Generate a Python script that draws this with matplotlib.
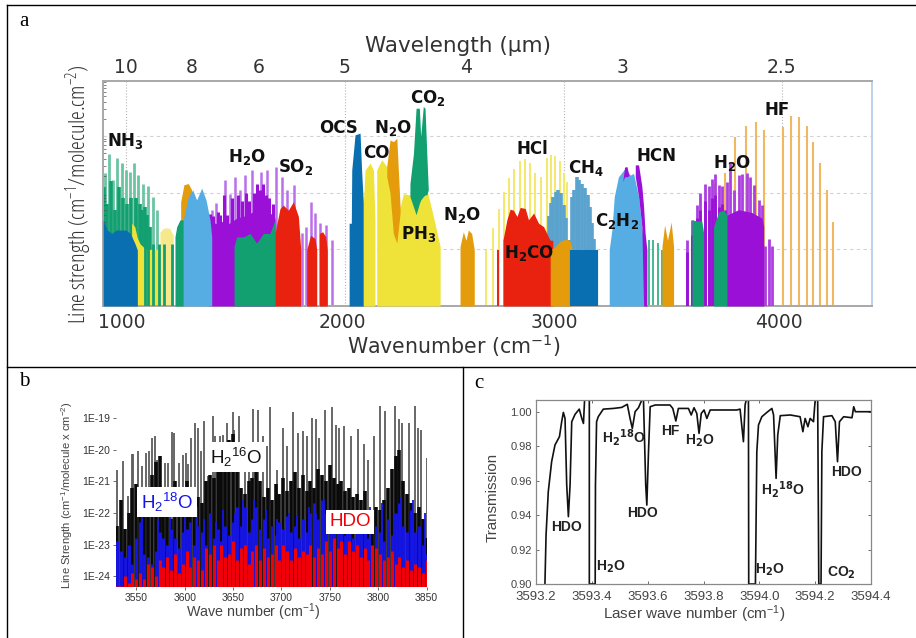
import numpy as np
import matplotlib
matplotlib.use("Agg")
import matplotlib.pyplot as plt
from matplotlib.lines import Line2D

W, H = 916, 638

# ---- panel a, filled bands (wavenumber, strength in decades above the axis floor)
nh3_base_x = [896, 915, 935, 955, 975, 1000, 1020, 1040, 1052]
nh3_base_h = [1.52, 1.34, 1.28, 1.34, 1.34, 1.34, 1.28, 1.11, 0.99]
nh3_stick_x = [904, 924, 942, 960, 980, 998, 1018, 1037, 1056, 1076, 1102, 1122, 1140]
nh3_stick_h = [2.34, 2.69, 2.22, 2.61, 2.52, 2.40, 2.37, 2.52, 2.31, 2.16, 2.11, 1.93, 1.69]
nh3_mid_x = [900, 912, 930, 950, 968, 985, 1005, 1025, 1045, 1062, 1072, 1085, 1095, 1110]
nh3_mid_h = [2.1, 1.8, 2.2, 1.7, 2.1, 1.9, 1.8, 1.9, 1.9, 1.8, 1.7, 1.75, 1.6, 1.4]
yellow_low_x = [1026, 1040, 1052, 1064, 1090, 1130, 1155]
yellow_low_h = [1.46, 1.40, 1.20, 1.10, 1.00, 1.00, 1.00]
pale_x = [1155, 1170, 1186, 1200, 1216]
pale_h = [1.30, 1.37, 1.38, 1.37, 1.25]
green_thin_x = [1087, 1102, 1125, 1151, 1174, 1209]
green_thin_h = [1.1, 1.1, 1.1, 1.1, 1.1, 1.1]
green_1_x = [1224, 1232, 1247, 1262]
green_1_h = [1.22, 1.40, 1.52, 1.52]
orange_1_x = [1250, 1265, 1285, 1300]
orange_1_h = [1.84, 2.14, 2.16, 2.05]
ltblue_1_x = [1262, 1285, 1305, 1323, 1346, 1366, 1384, 1392]
ltblue_1_h = [1.52, 1.93, 2.05, 1.87, 2.08, 1.87, 1.52, 1.22]
purple_1_x = [1379, 1415, 1445, 1468, 1506, 1552, 1597, 1628, 1658, 1681]
purple_1_h = [1.50, 1.45, 1.50, 1.45, 1.55, 1.60, 1.70, 1.75, 1.65, 1.55]
purple_dk_x = [1385, 1398, 1420, 1432, 1450, 1462, 1485, 1510, 1530, 1548, 1562, 1585, 1600, 1612, 1625, 1640, 1655, 1670]
purple_dk_h = [1.62, 1.58, 1.66, 1.60, 1.95, 1.60, 1.90, 1.95, 1.85, 2.00, 1.85, 2.00, 2.15, 2.05, 2.15, 1.95, 1.90, 1.80]
purple_st_x = [1392, 1411, 1453, 1475, 1498, 1521, 1544, 1575, 1616, 1646, 1686, 1712, 1735, 1770, 1803, 1823, 1844, 1864, 1887, 1913, 1940]
purple_st_h = [1.69, 1.81, 2.22, 1.98, 2.28, 2.05, 2.31, 2.40, 2.37, 2.40, 2.46, 2.28, 2.05, 2.14, 1.28, 1.40, 1.84, 1.64, 1.46, 1.43, 1.16]
green_2_x = [1494, 1506, 1537, 1567, 1597, 1628, 1658, 1681]
green_2_h = [1.05, 1.22, 1.22, 1.28, 1.11, 1.28, 1.28, 1.52]
red_1_x = [1681, 1704, 1719, 1742, 1765, 1788, 1799]
red_1_h = [1.28, 1.72, 1.78, 1.69, 1.84, 1.58, 0.99]
red_2_x = [1826, 1844, 1864, 1872]
red_2_h = [0.99, 1.25, 1.19, 0.99]
red_3_x = [1884, 1899, 1913, 1920]
red_3_h = [1.28, 1.31, 1.22, 0.99]
ocs_x = [2020, 2030, 2032, 2047, 2070, 2077, 2085]
ocs_h = [1.46, 1.46, 2.40, 3.02, 3.05, 2.40, 1.81]
co_x = [2085, 2093, 2116, 2131, 2138]
co_h = [1.81, 2.40, 2.52, 2.40, 1.52]
ph3_x = [2146, 2169, 2192, 2207, 2253, 2268, 2298, 2375, 2405, 2436]
ph3_h = [2.40, 2.58, 2.46, 2.12, 1.74, 1.98, 1.96, 2.06, 1.58, 1.05]
n2o_x = [2192, 2207, 2222, 2238, 2253]
n2o_top = [2.46, 2.93, 2.90, 2.96, 1.75]
n2o_low = [2.28, 1.99, 1.28, 1.11, 1.64]
co2_x = [2298, 2314, 2326, 2341, 2347, 2359, 2367, 2375, 2382]
co2_top = [2.16, 2.69, 3.49, 3.49, 2.99, 3.52, 3.49, 2.69, 2.05]
co2_low = [1.93, 1.75, 1.61, 1.81, 1.87, 1.93, 1.96, 1.96, 2.05]
n2o2_x = [2527, 2542, 2554, 2565, 2580, 2592]
n2o2_h = [1.05, 1.31, 1.16, 1.34, 1.28, 0.99]
hcl_x = [2646, 2677, 2703, 2726, 2752, 2774, 2799, 2822, 2845, 2870, 2898, 2924, 2944, 2963, 2985, 3000, 3018, 3038]
hcl_h = [0.99, 1.37, 1.72, 2.02, 2.25, 2.41, 2.55, 2.59, 2.53, 2.34, 2.28, 2.61, 2.66, 2.65, 2.55, 2.34, 2.19, 1.87]
h2co_x = [2723, 2741, 2756, 2771, 2787, 2802, 2825, 2840, 2863, 2886, 2909, 2931, 2939, 2951]
h2co_h = [1.16, 1.52, 1.71, 1.69, 1.58, 1.74, 1.72, 1.52, 1.64, 1.46, 1.40, 1.22, 1.16, 1.16]
red_thin_x = [2700]
red_thin_h = [0.99]
orange_3_x = [2939, 2962, 2985, 3015, 3030, 3038]
orange_3_h = [0.99, 1.05, 1.14, 1.19, 1.14, 1.05]
ch4_x = [2934, 2944, 2954, 2965, 2977, 2988, 3000, 3012, 3026, 3038, 3049, 3061, 3073, 3085, 3098, 3110, 3119, 3130, 3140, 3149]
ch4_h = [1.58, 1.81, 1.93, 2.02, 2.05, 1.99, 1.78, 1.55, 1.16, 1.93, 2.05, 2.28, 2.22, 2.16, 2.08, 1.96, 1.75, 1.46, 1.19, 0.99]
ch4_dark_x = [3038, 3050, 3062, 3074, 3086, 3099, 3114, 3130, 3148]
ch4_dark_h = [0.99, 0.99, 0.99, 0.99, 0.99, 0.99, 0.99, 0.99, 0.99]
c2h2_x = [3209, 3221, 3232, 3251, 3282, 3305, 3320, 3343, 3358, 3366]
c2h2_h = [1.00, 1.34, 1.93, 2.28, 2.43, 2.31, 2.34, 1.93, 1.40, 1.05]
hcn_1_x = [3271, 3279, 3290, 3299]
hcn_1_top = [2.20, 2.45, 2.46, 2.30]
hcn_1_low = [2.20, 2.28, 2.28, 2.30]
hcn_2_x = [3328, 3343, 3358, 3366, 3373, 3381]
hcn_2_top = [2.49, 2.49, 2.11, 1.75, 1.28, 0.99]
hcn_2_low = [2.28, 1.93, 1.40, 0.00, 0.00, 0.00]
green_st_x = [3389, 3411, 3431, 3450]
green_st_h = [1.16, 1.16, 1.11, 0.99]
orange_4_x = [3450, 3462, 3475, 3492, 3503]
orange_4_h = [1.05, 1.43, 1.16, 1.48, 1.05]
purple_3_x = [3745, 3800, 3860, 3907, 3915]
purple_3_h = [1.60, 1.70, 1.65, 1.55, 1.40]
purple_dk2_x = [3564, 3587, 3610, 3625, 3648, 3663, 3678, 3693, 3709, 3724, 3740]
purple_dk2_h = [0.95, 1.25, 1.55, 1.70, 1.85, 1.70, 1.90, 1.95, 1.75, 1.80, 1.70]
purple_4_x = [3564, 3587, 3610, 3625, 3648, 3663, 3678, 3693, 3709, 3724, 3747, 3759, 3777, 3800, 3815, 3838, 3853, 3869, 3892, 3907, 3922, 3940, 3952]
purple_4_h = [1.16, 1.52, 1.78, 2.00, 2.16, 2.11, 2.24, 2.33, 2.14, 2.11, 2.19, 2.52, 2.05, 2.31, 2.33, 2.34, 2.28, 2.14, 1.87, 1.78, 1.05, 1.19, 1.05]
green_3_x = [3587, 3610, 3632, 3640]
green_3_h = [1.52, 1.50, 1.50, 1.30]
green_4_x = [3686, 3709, 3732, 3747]
green_4_h = [1.40, 1.66, 1.69, 1.60]
hf_x = [3645, 3686, 3739, 3785, 3832, 3878, 3918, 4003, 4039, 4077, 4113, 4140, 4173, 4204, 4234]
hf_h = [1.69, 2.16, 2.34, 2.99, 3.18, 3.25, 3.11, 3.15, 3.35, 3.34, 3.18, 2.90, 2.52, 2.05, 1.48]

wavenumber_grid = [1000, 2000, 3000, 4000]
wavenumber_pos = [982, 1988, 2957, 3986]
wavenumber_labels = ["1000", "2000", "3000", "4000"]
wavelength_pos = [1000, 1302, 1608, 2000, 2555, 3268, 3995]
wavelength_labels = ["10", "8", "6", "5", "4", "3", "2.5"]

# ---- panel b
h2o_tall_wn = [3530, 3536, 3541, 3546, 3547, 3552, 3556, 3560, 3563, 3566, 3569, 3571, 3575, 3580, 3583, 3587, 3589, 3594, 3598, 3601, 3603, 3607, 3611, 3614, 3617, 3620, 3624, 3629, 3631, 3637, 3640, 3644, 3650, 3651, 3656, 3662, 3666, 3671, 3676, 3681, 3685, 3688, 3695, 3702, 3706, 3712, 3717, 3722, 3726, 3732, 3736, 3739, 3745, 3752, 3756, 3760, 3765, 3772, 3779, 3785, 3790, 3796, 3802, 3807, 3817, 3822, 3825, 3832, 3838, 3841, 3844, 3850]
h2o_tall_e = [-20.63, -20.37, -21.47, -20.13, -20.13, -20.05, -20.53, -20.10, -20.05, -19.63, -19.58, -20.32, -20.42, -20.42, -20.42, -19.44, -19.47, -20.42, -20.16, -20.10, -20.47, -19.63, -19.16, -19.32, -20.05, -19.10, -20.84, -18.95, -19.58, -19.58, -19.53, -19.16, -18.81, -19.37, -18.95, -19.79, -20.00, -18.72, -18.76, -19.58, -19.89, -18.65, -20.63, -19.32, -19.89, -18.82, -19.47, -19.42, -19.58, -19.00, -19.05, -19.63, -18.76, -18.65, -19.21, -19.32, -19.26, -19.58, -19.35, -19.84, -20.32, -19.58, -18.63, -18.79, -18.63, -19.05, -19.16, -19.16, -18.63, -19.32, -19.37, -20.26]
core_wn = [3530, 3534, 3538, 3542, 3546, 3550, 3554, 3558, 3562, 3566, 3570, 3574, 3578, 3582, 3586, 3590, 3594, 3598, 3602, 3606, 3610, 3614, 3618, 3622, 3626, 3630, 3634, 3638, 3642, 3646, 3650, 3654, 3658, 3662, 3666, 3670, 3674, 3678, 3682, 3686, 3690, 3694, 3698, 3702, 3706, 3710, 3714, 3718, 3722, 3726, 3730, 3734, 3738, 3742, 3746, 3750, 3754, 3758, 3762, 3766, 3770, 3774, 3778, 3782, 3786, 3790, 3794, 3798, 3802, 3806, 3810, 3814, 3818, 3822, 3826, 3830, 3834, 3838, 3842, 3846, 3850]
h2o_core_e = [-22.4, -21.6, -22.5, -22.0, -21.2, -21.1,
              -21.5, -21.2, -21.3, -20.8, -20.4, -20.2,
              -22.1, -21.7, -22.2, -21.0, -21.6, -21.3,
              -21.0, -21.8, -21.2, -21.5, -21.7, -21.0,
              -20.8, -20.9, -20.3, -20.6, -20.0, -19.7,
              -19.5, -20.5, -21.2, -21.4, -21.0, -20.9,
              -20.5, -21.0, -21.5, -21.2, -21.6, -21.1,
              -21.4, -20.9, -21.3, -21.0, -20.7, -21.2,
              -20.8, -21.3, -21.0, -21.2, -20.6, -20.8,
              -21.0, -20.5, -20.9, -21.1, -21.0, -21.3,
              -21.2, -21.5, -21.4, -21.6, -21.3, -22.0,
              -22.2, -21.8, -21.9, -21.6, -21.2, -20.6,
              -20.2, -20.0, -21.0, -21.4, -21.7, -22.0,
              -21.8, -22.2, -22.8]
h218o_e = [-22.9, -23.2, -23.4, -23.0, -23.6, -22.8,
           -22.3, -23.3, -23.4, -23.6, -23.2, -22.6,
           -22.8, -23.0, -22.5, -22.8, -23.1, -22.6,
           -22.5, -22.3, -23.0, -22.4, -22.6, -23.0,
           -22.0, -22.8, -22.5, -22.9, -22.4, -22.7,
           -22.3, -21.8, -22.4, -21.8, -22.6, -22.2,
           -21.8, -22.5, -22.2, -22.8, -22.4, -22.7,
           -22.3, -22.5, -22.1, -22.6, -22.4, -22.8,
           -22.2, -22.6, -22.0, -21.7, -22.2, -21.6,
           -22.0, -22.5, -22.2, -22.6, -22.3, -22.7,
           -22.4, -22.8, -22.5, -22.2, -22.6, -22.8,
           -23.1, -22.4, -22.6, -22.9, -22.2, -22.7,
           -22.0, -21.7, -22.4, -22.6, -21.9, -22.6,
           -22.4, -23.0, -23.3]
h218o_spike_wn = [3556, 3572, 3585, 3600, 3613, 3620, 3632, 3640, 3652, 3660, 3672, 3684, 3695, 3708, 3716, 3728, 3736, 3744, 3752, 3768, 3780, 3792, 3804, 3816, 3824, 3836, 3848]
h218o_spike_e = [-22.1, -22.2, -22.0, -21.9, -21.8, -22.2, -22.3, -21.9, -22.0, -21.6, -21.6, -21.9, -22.2, -22.0, -22.1, -21.8, -22.0, -21.6, -22.2, -22.3, -22.0, -21.8, -21.7, -22.0, -21.5, -21.6, -22.0]
hdo_e = [-24.3, -24.3, -24.0, -24.2, -23.9, -24.1,
         -23.9, -24.1, -23.6, -23.7, -24.0, -23.5,
         -23.7, -23.4, -23.8, -23.3, -23.9, -23.6,
         -23.2, -23.7, -23.4, -23.5, -23.8, -23.1,
         -23.3, -23.0, -23.5, -23.0, -23.4, -23.3,
         -22.9, -23.5, -23.1, -23.0, -23.6, -23.2,
         -23.0, -23.5, -23.1, -23.4, -23.3, -23.0,
         -23.5, -23.0, -23.2, -23.5, -23.1, -23.4,
         -23.2, -23.3, -23.0, -23.4, -23.1, -23.3,
         -22.9, -23.2, -22.8, -23.1, -22.9, -23.3,
         -22.9, -23.2, -23.0, -23.4, -23.1, -23.5,
         -23.0, -23.1, -23.3, -23.5, -23.4, -23.2,
         -23.6, -23.4, -23.7, -23.5, -23.8, -23.6,
         -23.7, -23.9, -23.5]
b_xticks = [3550, 3600, 3650, 3700, 3750, 3800, 3850]
b_yticks = [-24, -23, -22, -21, -20, -19]

# ---- panel c
laser_wn = [3593.232, 3593.236, 3593.244, 3593.256, 3593.268, 3593.284, 3593.292, 3593.298, 3593.304, 3593.310, 3593.316, 3593.322, 3593.328, 3593.340, 3593.355, 3593.364, 3593.370, 3593.374, 3593.379, 3593.391, 3593.391, 3593.412, 3593.413, 3593.417, 3593.423, 3593.441, 3593.477, 3593.507, 3593.527, 3593.537, 3593.545, 3593.555, 3593.567, 3593.579, 3593.585, 3593.593, 3593.597, 3593.603, 3593.609, 3593.627, 3593.680, 3593.690, 3593.701, 3593.710, 3593.746, 3593.756, 3593.766, 3593.776, 3593.784, 3593.792, 3593.802, 3593.812, 3593.824, 3593.919, 3593.931, 3593.943, 3593.949, 3593.953, 3593.961, 3593.962, 3593.986, 3593.991, 3593.997, 3594.009, 3594.027, 3594.045, 3594.051, 3594.060, 3594.066, 3594.075, 3594.111, 3594.146, 3594.156, 3594.164, 3594.174, 3594.182, 3594.194, 3594.200, 3594.209, 3594.213, 3594.221, 3594.224, 3594.230, 3594.260, 3594.272, 3594.280, 3594.287, 3594.302, 3594.332, 3594.338, 3594.344, 3594.400]
transmission = [0.9000, 0.9284, 0.9536, 0.9710, 0.9807, 0.9855, 0.9942, 0.9996, 0.9961, 0.9575, 0.9391, 0.9575, 0.9942, 0.9985, 1.0015, 0.9961, 0.9932, 1.0068, 1.0068, 1.0068, 0.9000, 0.9000, 0.9575, 0.9942, 0.9971, 1.0015, 1.0019, 1.0025, 1.0043, 0.9961, 0.9903, 1.0000, 1.0023, 1.0068, 1.0068, 0.9575, 0.9458, 0.9768, 1.0029, 1.0039, 1.0039, 1.0019, 0.9946, 1.0019, 1.0019, 0.9981, 1.0023, 0.9990, 0.9874, 0.9990, 1.0010, 0.9961, 1.0010, 1.0010, 1.0015, 0.9826, 1.0039, 1.0068, 1.0068, 0.9000, 0.9000, 0.9768, 0.9923, 0.9971, 0.9996, 1.0019, 0.9981, 0.9613, 0.9865, 0.9977, 0.9981, 0.9971, 0.9884, 0.9961, 0.9913, 0.9961, 0.9942, 1.0068, 1.0068, 0.9000, 0.9000, 0.9768, 0.9971, 0.9977, 0.9942, 0.9710, 0.9942, 0.9971, 0.9965, 1.0029, 1.0000, 1.0000]
c_xticks = [3593.2, 3593.4, 3593.6, 3593.8, 3594.0, 3594.2, 3594.4]
c_yticks = [0.90, 0.92, 0.94, 0.96, 0.98, 1.00]

BLUE = "#0a6fb0"
LTBLUE = "#55ade4"
GREEN = "#12a070"
YELLOW = "#efe238"
ORANGE = "#e49c0c"
PURPLE = "#9a10d6"
RED = "#e8220e"


def make_axes(fig, left, top, right, bottom):
    return fig.add_axes([left / W, 1 - bottom / H, (right - left) / W, (bottom - top) / H])


def px_text(fig, x, y, s, **kw):
    kw.setdefault("ha", "center")
    kw.setdefault("va", "center")
    fig.text(x / W, 1 - y / H, s, **kw)


def panel_a(fig):
    ax = make_axes(fig, 103, 81, 872, 306)
    ax.set_xlim(895, 4410)
    ax.set_ylim(0, 3.97)
    for v in wavenumber_grid:
        ax.axvline(v, color="#b4b4b4", lw=0.8, ls=":", zorder=0)
    for v in [1, 2, 3]:
        ax.axhline(v, color="#d2d2d2", lw=0.8, ls=(0, (3, 3)), zorder=0)

    ax.vlines(nh3_stick_x, 0, nh3_stick_h, color="#6cc4a4", lw=2.0, zorder=1)
    ax.vlines(nh3_mid_x, 0, nh3_mid_h, color=GREEN, lw=2.6, zorder=1.5)
    ax.fill_between(yellow_low_x, 0, yellow_low_h, color=YELLOW, lw=0, zorder=2)
    ax.fill_between(pale_x, 0, pale_h, color="#f6e98c", lw=0, zorder=2)
    ax.fill_between(nh3_base_x, 0, nh3_base_h, color=BLUE, lw=0, zorder=3)
    ax.vlines(green_thin_x, 0, green_thin_h, color=GREEN, lw=2.0, zorder=3)
    ax.fill_between(orange_1_x, 0, orange_1_h, color=ORANGE, lw=0, zorder=2)
    ax.fill_between(green_1_x, 0, green_1_h, color=GREEN, lw=0, zorder=3)
    ax.vlines(purple_st_x, 0, purple_st_h, color="#bb70ea", lw=1.8, zorder=2)
    ax.vlines(purple_dk_x, 0, purple_dk_h, color=PURPLE, lw=2.2, zorder=2.5)
    ax.fill_between(purple_1_x, 0, purple_1_h, color=PURPLE, lw=0, zorder=3)
    ax.fill_between(ltblue_1_x, 0, ltblue_1_h, color=LTBLUE, lw=0, zorder=4)
    ax.fill_between(green_2_x, 0, green_2_h, color=GREEN, lw=0, zorder=4)
    ax.fill_between(red_1_x, 0, red_1_h, color=RED, lw=0, zorder=5)
    ax.fill_between(red_2_x, 0, red_2_h, color=RED, lw=0, zorder=5)
    ax.fill_between(red_3_x, 0, red_3_h, color=RED, lw=0, zorder=5)

    ax.fill_between(ocs_x, 0, ocs_h, color=BLUE, lw=0, zorder=3)
    ax.fill_between(co_x, 0, co_h, color=YELLOW, lw=0, zorder=3)
    ax.fill_between(ph3_x, 0, ph3_h, color=YELLOW, lw=0, zorder=3)
    ax.fill_between(n2o_x, n2o_low, n2o_top, color=ORANGE, lw=0, zorder=4)
    ax.fill_between(co2_x, co2_low, co2_top, color=GREEN, lw=0, zorder=4)
    ax.fill_between(n2o2_x, 0, n2o2_h, color=ORANGE, lw=0, zorder=3)

    ax.vlines(hcl_x, 0, hcl_h, color="#f3e96a", lw=1.4, zorder=1)
    ax.fill_between(h2co_x, 0, h2co_h, color=RED, lw=0, zorder=3)
    ax.vlines(red_thin_x, 0, red_thin_h, color=RED, lw=1.4, zorder=3)
    ax.vlines(ch4_x, 0, ch4_h, color="#5ba3cf", lw=2.6, zorder=2)
    ax.fill_between(orange_3_x, 0, orange_3_h, color=ORANGE, lw=0, zorder=3)
    ax.vlines(ch4_dark_x, 0, ch4_dark_h, color=BLUE, lw=3.0, zorder=3)
    ax.fill_between(c2h2_x, 0, c2h2_h, color=LTBLUE, lw=0, zorder=3)
    ax.fill_between(hcn_1_x, hcn_1_low, hcn_1_top, color=PURPLE, lw=0, zorder=4)
    ax.fill_between(hcn_2_x, hcn_2_low, hcn_2_top, color=PURPLE, lw=0, zorder=4)
    ax.vlines(green_st_x, 0, green_st_h, color="#45b890", lw=1.4, zorder=2)
    ax.fill_between(orange_4_x, 0, orange_4_h, color=ORANGE, lw=0, zorder=3)

    ax.vlines(hf_x, 0, hf_h, color="#f0b860", lw=1.5, zorder=2.5)
    ax.vlines(purple_4_x, 0, purple_4_h, color="#ad3fe2", lw=2.0, zorder=3)
    ax.vlines(purple_dk2_x, 0, purple_dk2_h, color=PURPLE, lw=2.0, zorder=3.2)
    ax.fill_between(purple_3_x, 0, purple_3_h, color=PURPLE, lw=0, zorder=3.5)
    ax.fill_between(green_3_x, 0, green_3_h, color=GREEN, lw=0, zorder=4)
    ax.fill_between(green_4_x, 0, green_4_h, color=GREEN, lw=0, zorder=4)

    ax.set_xticks(wavenumber_pos)
    ax.set_xticklabels(wavenumber_labels, fontsize=13.5, color="#333333")
    ax.tick_params(axis="x", length=0, pad=5)
    ax.set_yticks([])
    ax.set_yticks(np.log10([2, 3, 4, 5, 6, 7, 8, 9, 20, 30, 40, 50, 60, 70, 80, 90,
                            200, 300, 400, 500, 600, 700, 800, 900, 2000, 3000, 4000, 5000, 6000, 7000, 8000, 9000]),
                  minor=True)
    ax.tick_params(axis="y", which="minor", length=2, width=0.5, direction="in", color="#555555")
    top = ax.secondary_xaxis("top")
    top.set_xticks(wavelength_pos)
    top.set_xticklabels(wavelength_labels, fontsize=13.5, color="#333333")
    top.tick_params(length=0, pad=3)
    top.spines["top"].set_visible(False)
    for s in ["left", "top", "bottom"]:
        ax.spines[s].set_color("#a8a8a8")
        ax.spines[s].set_linewidth(1.4)
    ax.spines["right"].set_color("#bcd2ea")
    ax.spines["right"].set_linewidth(1.4)

    px_text(fig, 458, 46, "Wavelength (µm)", fontsize=15.5, color="#333333")
    px_text(fig, 454, 346, "Wavenumber (cm$^{-1}$)", fontsize=14.8, color="#333333")
    px_text(fig, 79, 194, "Line strength (cm$^{-1}$/molecule.cm$^{-2}$)", rotation=90,
            fontsize=16.2, color="#333333", family="Open Sans", stretch="condensed")

    labels = [(125, 141, r"NH$_\mathbf{3}$"), (247, 157, r"H$_\mathbf{2}$O"), (296, 167, r"SO$_\mathbf{2}$"),
              (338, 128, "OCS"), (376, 153, "CO"), (393, 128, r"N$_\mathbf{2}$O"),
              (428, 98, r"CO$_\mathbf{2}$"), (419, 234, r"PH$_\mathbf{3}$"), (462, 215, r"N$_\mathbf{2}$O"),
              (532, 149, "HCl"), (586, 168, r"CH$_\mathbf{4}$"), (656, 156, "HCN"),
              (617, 221, r"C$_\mathbf{2}$H$_\mathbf{2}$"), (529, 253, r"H$_\mathbf{2}$CO"),
              (732, 163, r"H$_\mathbf{2}$O"), (777, 110, "HF")]
    for x, y, s in labels:
        px_text(fig, x, y, s, fontsize=12, weight="bold", color="#111111", zorder=10)


def panel_b(fig):
    ax = make_axes(fig, 116, 403, 427, 587)
    ax.set_yscale("log")
    ax.set_xlim(3529, 3850.5)
    ax.set_ylim(10.0 ** -24.34, 10.0 ** -18.53)
    floor = 10.0 ** -24.34
    ax.vlines(h2o_tall_wn, floor, 10.0 ** np.array(h2o_tall_e), color="#5c5c5c", lw=1.3, zorder=1)
    ax.vlines(core_wn, floor, 10.0 ** np.array(h2o_core_e), color="#0a0a0a", lw=2.6, zorder=2)
    ax.vlines(core_wn, floor, 10.0 ** np.array(h218o_e), color="#1414e6", lw=2.1, zorder=3)
    ax.vlines(h218o_spike_wn, floor, 10.0 ** np.array(h218o_spike_e), color="#1414e6", lw=1.3, zorder=3)
    ax.vlines(core_wn, floor, 10.0 ** np.array(hdo_e), color="#f00008", lw=2.2, zorder=4)

    ax.set_xticks(b_xticks)
    ax.set_xticklabels([str(v) for v in b_xticks], fontsize=7.5, color="#333333", family="Liberation Sans")
    ax.set_yticks([10.0 ** e for e in b_yticks])
    ax.set_yticklabels(["1E-%d" % -e for e in b_yticks], fontsize=7.5, color="#333333", family="Liberation Sans")
    ax.minorticks_off()
    ax.tick_params(length=2, width=0.6, pad=2, color="#555555")
    for s in ax.spines.values():
        s.set_visible(False)

    px_text(fig, 253, 612, "Wave number (cm$^{-1}$)", fontsize=10.3, color="#444444", family="Liberation Sans")
    px_text(fig, 67, 495, "Line Strength (cm$^{-1}$/molecule x cm$^{-2}$)", rotation=90,
            fontsize=8.1, color="#444444", family="Liberation Sans")
    box = dict(facecolor="white", edgecolor="none", pad=2.5)
    px_text(fig, 236, 457, r"H$_2$$^{16}$O", fontsize=13.5, color="#111111", family="Liberation Sans", bbox=box, zorder=10)
    px_text(fig, 167, 502, r"H$_2$$^{18}$O", fontsize=13.5, color="#1414e6", family="Liberation Sans", bbox=box, zorder=10)
    px_text(fig, 350, 522, "HDO", fontsize=13.5, color="#f00008", family="Liberation Sans", bbox=box, zorder=10)


def panel_c(fig):
    ax = make_axes(fig, 536, 400, 871, 584)
    ax.set_xlim(3593.2, 3594.4)
    ax.set_ylim(0.90, 1.0068)
    ax.plot(laser_wn, transmission, color="#111111", lw=1.2, solid_joinstyle="round")
    ax.set_xticks(c_xticks)
    ax.set_xticklabels(["%.1f" % v for v in c_xticks], fontsize=9.5, color="#444444", family="Liberation Sans")
    ax.set_yticks(c_yticks)
    ax.set_yticklabels(["%.2f" % v for v in c_yticks], fontsize=8, color="#444444", family="Liberation Sans")
    ax.tick_params(length=2, width=0.6, color="#555555", direction="in", right=True, top=True)
    ax.tick_params(axis="x", pad=5)
    ax.tick_params(axis="y", pad=3)
    for s in ax.spines.values():
        s.set_color("#888888")
        s.set_linewidth(0.9)

    px_text(fig, 694, 614, "Laser wave number (cm$^{-1}$)", fontsize=11, color="#444444", family="Liberation Sans")
    px_text(fig, 493, 497, "Transmission", rotation=90, fontsize=10.9, color="#444444", family="Liberation Sans")
    labels = [(567, 527, "HDO"), (611, 567, r"H$_\mathbf{2}$O"), (624, 438, r"H$_\mathbf{2}$$^\mathbf{18}$O"),
              (643, 513, "HDO"), (670, 431, "HF"), (700, 441, r"H$_\mathbf{2}$O"), (770, 570, r"H$_\mathbf{2}$O"),
              (783, 490, r"H$_\mathbf{2}$$^\mathbf{18}$O"), (846, 472, "HDO"), (841, 573, r"CO$_\mathbf{2}$")]
    for x, y, s in labels:
        px_text(fig, x, y, s, fontsize=10, color="#222222", family="Liberation Sans",
                weight="bold", zorder=10)


def table_lines(fig):
    segs = [([7, 916], [5, 5]), ([7, 7], [5, 638]), ([7, 916], [367, 367]), ([463, 463], [367, 638])]
    for xs, ys in segs:
        fig.add_artist(Line2D([x / W for x in xs], [1 - y / H for y in ys], color="black", lw=1.0))
    serif = dict(family="Liberation Serif", fontsize=15, color="black")
    px_text(fig, 24, 22, "a", **serif)
    px_text(fig, 24, 382, "b", **serif)
    px_text(fig, 479, 384, "c", **serif)


plt.rcParams["mathtext.fontset"] = "dejavusans"
plt.rcParams["mathtext.default"] = "regular"
fig = plt.figure(figsize=(W / 100, H / 100), dpi=100)
panel_a(fig)
panel_b(fig)
panel_c(fig)
table_lines(fig)
fig.savefig("out.png", dpi=100)
